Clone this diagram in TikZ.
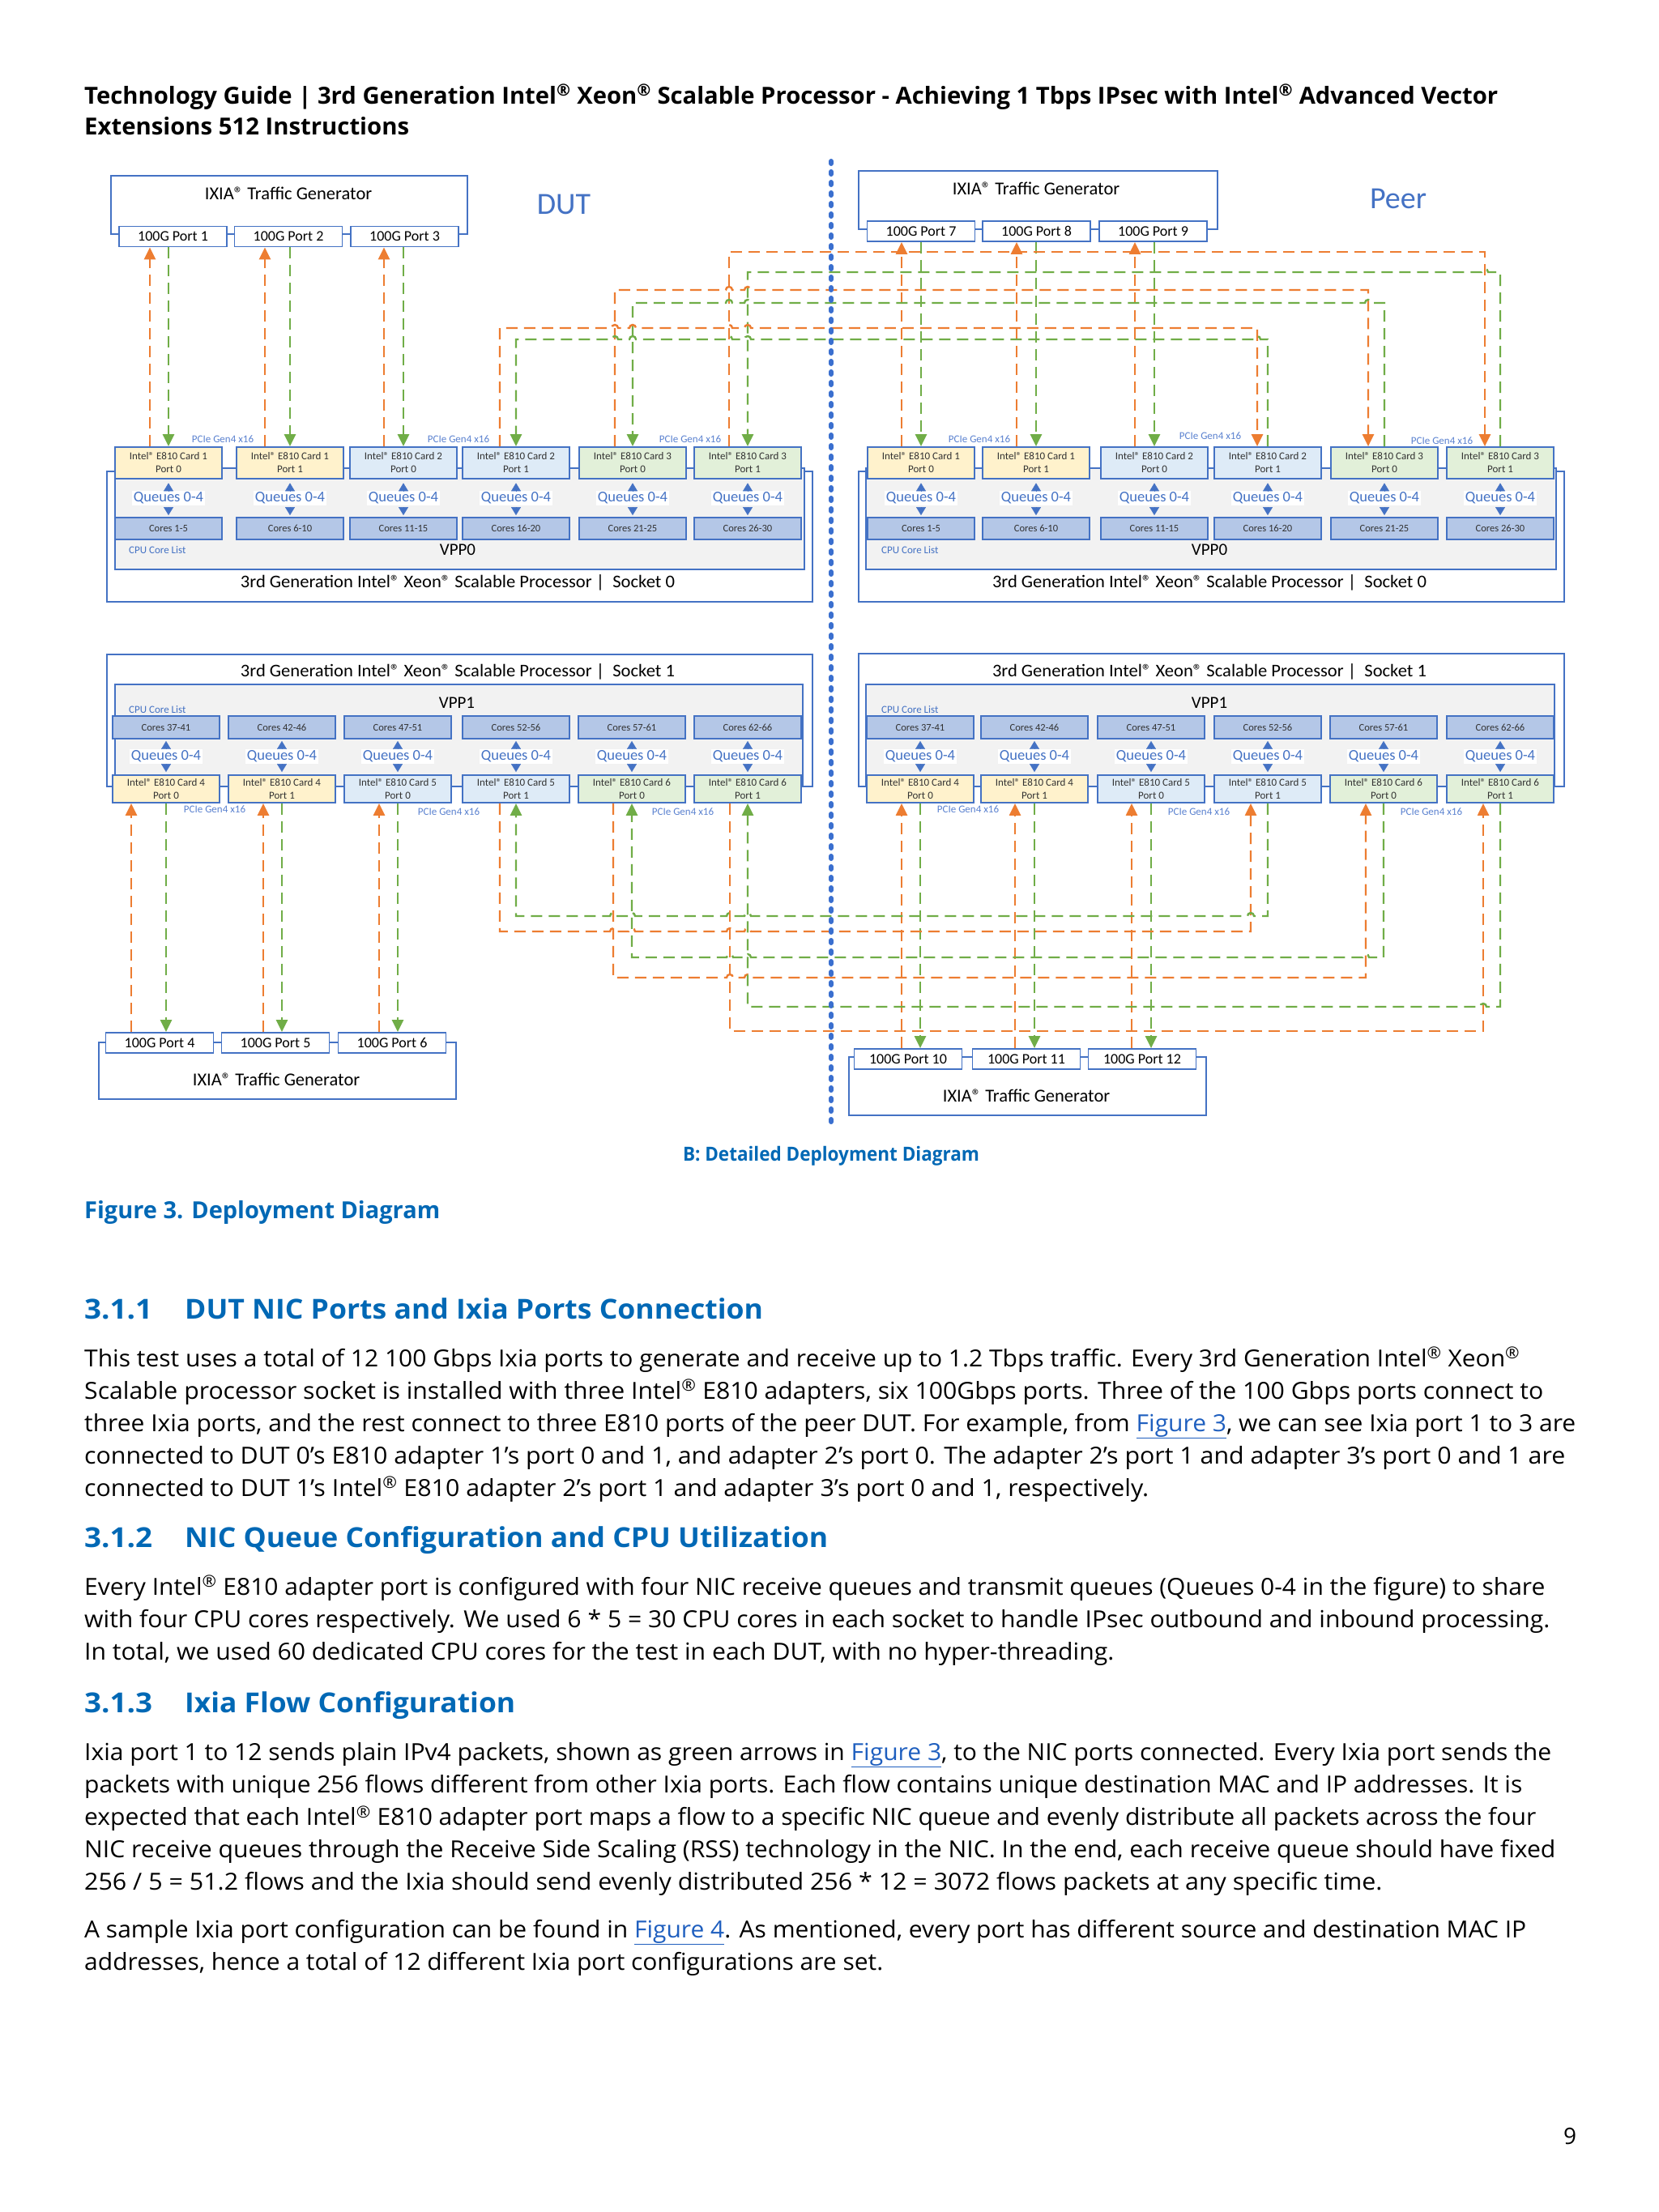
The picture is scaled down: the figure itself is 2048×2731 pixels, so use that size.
\documentclass[tikz,border=0pt]{standalone}
\usepackage{fontspec}
\setmainfont{Open Sans}
\newfontfamily\dfont{Carlito}
\usepackage{graphicx}
\usetikzlibrary{arrows.meta}
\definecolor{bblue}{HTML}{4472C4}
\definecolor{lblue}{HTML}{5B82D0}
\definecolor{sepblue}{HTML}{3A6FCF}
\definecolor{oran}{HTML}{ED7D31}
\definecolor{grn}{HTML}{70AD47}
\definecolor{yelf}{HTML}{FFF2CC}
\definecolor{bluf}{HTML}{DEEBF7}
\definecolor{grnf}{HTML}{E2F0D9}
\definecolor{coref}{HTML}{B4C7E7}
\definecolor{vppf}{HTML}{F2F2F2}
\definecolor{intel}{HTML}{0068B5}
\definecolor{linkc}{HTML}{1F5FBF}
\definecolor{dtext}{HTML}{333333}
\newcommand{\regm}{\textsuperscript{®}}
\newcommand{\fitw}[2]{\resizebox{#1pt}{\height}{#2}}
\newcommand{\lnk}[1]{{\color{linkc}\underline{#1}}}
\tikzset{
  box/.style={draw=bblue, line width=1.8pt},
  card/.style={box, minimum width=132pt, inner sep=0pt, align=center, text=dtext,
    font=\dfont\fontsize{13}{16}\selectfont},
  cores/.style={box, fill=coref, minimum width=132pt, inner sep=0pt, text=dtext,
    font=\dfont\fontsize{12.5}{14}\selectfont},
  port/.style={box, fill=white, minimum width=133pt, minimum height=25pt, inner sep=0pt,
    font=\dfont\fontsize{18}{20}\selectfont},
  queue/.style={fill=white, inner xsep=2pt, inner ysep=0pt, minimum height=18pt, text=bblue,
    font=\dfont\fontsize{18.5}{20}\selectfont},
  pcie/.style={inner sep=0pt, text=lblue, font=\dfont\fontsize{13}{14}\selectfont},
  ixl/.style={inner sep=0pt, text=black, font=\dfont\fontsize{22.5}{24}\selectfont},
  sockl/.style={inner sep=0pt, text=black, font=\dfont\fontsize{22}{24}\selectfont},
  vppl/.style={inner sep=0pt, text=black, font=\dfont\fontsize{21}{24}\selectfont},
  cpul/.style={inner sep=0pt, anchor=west, text=bblue, font=\dfont\fontsize{13}{14}\selectfont},
  bigl/.style={inner sep=0pt, text=bblue, font=\dfont\fontsize{38}{40}\selectfont},
  oline/.style={draw=oran, line width=2.4pt, dash pattern=on 14pt off 8pt},
  gline/.style={draw=grn, line width=2.4pt, dash pattern=on 14pt off 8pt},
  arrtip/.style={-{Triangle[width=14pt,length=15pt]}},
  qtri/.style={draw=bblue, line width=0.4pt, -{Triangle[width=12pt,length=10pt]}},
  sepline/.style={draw=sepblue, line width=6pt, dash pattern=on 3pt off 10pt, line cap=round},
  body/.style={anchor=base west, inner sep=0pt, text=black, font=\fontsize{29}{36}\selectfont},
  head/.style={anchor=base west, inner sep=0pt, text=intel, font=\bfseries\fontsize{34}{40}\selectfont},
}
\begin{document}
\begin{tikzpicture}[x=1pt,y=-1pt]
\fill[white] (0,0) rectangle (2048,2731);
\useasboundingbox (0,0) rectangle (2048,2731);

% ---------- header ----------
\node[anchor=base west, inner sep=0pt, font=\bfseries\fontsize{29}{34}\selectfont] (hd1) at (104,128)
  {\fitw{1745}{Technology Guide | 3rd Generation Intel\regm{} Xeon\regm{} Scalable Processor - Achieving 1 Tbps IPsec with Intel\regm{} Advanced Vector}};
\node[anchor=base west, inner sep=0pt, font=\bfseries\fontsize{29}{34}\selectfont] (hd2) at (104,166)
  {\fitw{401}{Extensions 512 Instructions}};

% ---------- Ixia boxes ----------
\node[box, fill=white, anchor=north west, minimum width=440pt, minimum height=72pt, inner sep=0pt] (dIxT) at (136,216) {};
\node[ixl] (dIxTl) at (356,239) {IXIA® Traffic Generator};
\node[port] (dP1) at (213.5,292) {100G Port 1};
\node[port] (dP2) at (356,292) {100G Port 2};
\node[port] (dP3) at (499.5,292) {100G Port 3};

\node[box, fill=white, anchor=north west, minimum width=443pt, minimum height=72pt, inner sep=0pt] (pIxT) at (1059,210) {};
\node[ixl] (pIxTl) at (1279,233) {IXIA® Traffic Generator};
\node[port] (pP7) at (1137,285.5) {100G Port 7};
\node[port] (pP8) at (1279.5,285.5) {100G Port 8};
\node[port] (pP9) at (1423.5,285.5) {100G Port 9};

\node[box, fill=white, anchor=north west, minimum width=441pt, minimum height=70pt, inner sep=0pt] (dIxB) at (121,1286) {};
\node[ixl] (dIxBl) at (341,1333) {IXIA® Traffic Generator};
\node[port] (dP4) at (197,1287.5) {100G Port 4};
\node[port] (dP5) at (340,1287.5) {100G Port 5};
\node[port] (dP6) at (484,1287.5) {100G Port 6};

\node[box, fill=white, anchor=north west, minimum width=441pt, minimum height=72pt, inner sep=0pt] (pIxB) at (1047,1304) {};
\node[ixl] (pIxBl) at (1267,1353) {IXIA® Traffic Generator};
\node[port] (pP10) at (1121,1307.5) {100G Port 10};
\node[port] (pP11) at (1267,1307.5) {100G Port 11};
\node[port] (pP12) at (1410,1307.5) {100G Port 12};

\node[bigl] (dutl) at (696,252) {DUT};
\node[bigl] (peerl) at (1726,245) {Peer};

% ---------- sockets ----------
\node[box, fill=white, anchor=north west, minimum width=871pt, minimum height=161pt, inner sep=0pt] (dS0) at (131,581) {};
\node[box, fill=vppf, anchor=north west, minimum width=851pt, minimum height=125pt, inner sep=0pt] (dV0) at (141,577) {};
\node[box, fill=white, anchor=north west, minimum width=871pt, minimum height=161pt, inner sep=0pt] (pS0) at (1059,581) {};
\node[box, fill=vppf, anchor=north west, minimum width=852pt, minimum height=125pt, inner sep=0pt] (pV0) at (1068,577) {};
\node[box, fill=white, anchor=north west, minimum width=871pt, minimum height=163pt, inner sep=0pt] (dS1) at (131,807) {};
\node[box, fill=vppf, anchor=north west, minimum width=849pt, minimum height=126pt, inner sep=0pt] (dV1) at (141,844) {};
\node[box, fill=white, anchor=north west, minimum width=871pt, minimum height=164pt, inner sep=0pt] (pS1) at (1059,806) {};
\node[box, fill=vppf, anchor=north west, minimum width=850pt, minimum height=126pt, inner sep=0pt] (pV1) at (1068,844) {};

\node[sockl] (dS0l) at (565,719) {\fitw{536}{3rd Generation Intel® Xeon® Scalable Processor |\ \ Socket 0}};
\node[sockl] (pS0l) at (1493,719) {\fitw{536}{3rd Generation Intel® Xeon® Scalable Processor |\ \ Socket 0}};
\node[sockl] (dS1l) at (565,829) {\fitw{536}{3rd Generation Intel® Xeon® Scalable Processor |\ \ Socket 1}};
\node[sockl] (pS1l) at (1493,829) {\fitw{536}{3rd Generation Intel® Xeon® Scalable Processor |\ \ Socket 1}};
\node[vppl] (dV0l) at (565,679) {VPP0};
\node[vppl] (pV0l) at (1493,679) {VPP0};
\node[vppl] (dV1l) at (564,868) {VPP1};
\node[vppl] (pV1l) at (1493,868) {VPP1};
\node[cpul] (dC0l) at (159,679) {CPU Core List};
\node[cpul] (pC0l) at (1088,679) {CPU Core List};
\node[cpul] (dC1l) at (159,876) {CPU Core List};
\node[cpul] (pC1l) at (1088,876) {CPU Core List};

% ---------- cards / cores / queues : socket 0 ----------
\foreach \i/\cx/\fc/\cn/\pn/\corl in {1/208/yelf/1/0/1-5, 2/358/yelf/1/1/6-10, 3/498/bluf/2/0/11-15, 4/637/bluf/2/1/16-20, 5/781/grnf/3/0/21-25, 6/923/grnf/3/1/26-30}{
  \node[card, fill=\fc, minimum height=39pt] (dT\i) at (\cx,571.5) {Intel® E810 Card \cn\\Port \pn};
  \node[cores, minimum height=27pt] (dTc\i) at (\cx,652.5) {Cores \corl};
  \node[queue] (dTq\i) at (\cx,615) {Queues 0-4};
  \draw[qtri, shorten >=4.5pt] (dTq\i.north) -- (dT\i.south);
  \draw[qtri, shorten <=3pt, shorten >=2pt] (dTq\i.south) -- (dTc\i.north);
}
\foreach \i/\cx/\fc/\cn/\pn/\corl in {1/1137/yelf/1/0/1-5, 2/1279/yelf/1/1/6-10, 3/1425/bluf/2/0/11-15, 4/1565/bluf/2/1/16-20, 5/1709/grnf/3/0/21-25, 6/1852/grnf/3/1/26-30}{
  \node[card, fill=\fc, minimum height=39pt] (pT\i) at (\cx,571.5) {Intel® E810 Card \cn\\Port \pn};
  \node[cores, minimum height=27pt] (pTc\i) at (\cx,652.5) {Cores \corl};
  \node[queue] (pTq\i) at (\cx,615) {Queues 0-4};
  \draw[qtri, shorten >=4.5pt] (pTq\i.north) -- (pT\i.south);
  \draw[qtri, shorten <=3pt, shorten >=2pt] (pTq\i.south) -- (pTc\i.north);
}
% ---------- socket 1 ----------
\foreach \i/\cx/\fc/\cn/\pn/\corl in {1/205/yelf/4/0/37-41, 2/348/yelf/4/1/42-46, 3/491/bluf/5/0/47-51, 4/637/bluf/5/1/52-56, 5/780/grnf/6/0/57-61, 6/923/grnf/6/1/62-66}{
  \node[card, fill=\fc, minimum height=34pt] (dB\i) at (\cx,974) {Intel® E810 Card \cn\\Port \pn};
  \node[cores, minimum height=28pt] (dBc\i) at (\cx,898) {Cores \corl};
  \node[queue] (dBq\i) at (\cx,934) {Queues 0-4};
  \draw[qtri, shorten <=1pt, shorten >=2pt] (dBq\i.north) -- (dBc\i.south);
  \draw[qtri, shorten <=1pt, shorten >=3pt] (dBq\i.south) -- (dB\i.north);
}
\foreach \i/\cx/\fc/\cn/\pn/\corl in {1/1136/yelf/4/0/37-41, 2/1277/yelf/4/1/42-46, 3/1421/bluf/5/0/47-51, 4/1565/bluf/5/1/52-56, 5/1708/grnf/6/0/57-61, 6/1852/grnf/6/1/62-66}{
  \node[card, fill=\fc, minimum height=34pt] (pB\i) at (\cx,974) {Intel® E810 Card \cn\\Port \pn};
  \node[cores, minimum height=28pt] (pBc\i) at (\cx,898) {Cores \corl};
  \node[queue] (pBq\i) at (\cx,934) {Queues 0-4};
  \draw[qtri, shorten <=1pt, shorten >=2pt] (pBq\i.north) -- (pBc\i.south);
  \draw[qtri, shorten <=1pt, shorten >=3pt] (pBq\i.south) -- (pB\i.north);
}

% ---------- PCIe labels ----------
\node[pcie] (dTpc1) at (275,542) {PCIe Gen4 x16};
\node[pcie] (dTpc2) at (566,542) {PCIe Gen4 x16};
\node[pcie] (dTpc3) at (852,542) {PCIe Gen4 x16};
\node[pcie] (pTpc1) at (1209,542) {PCIe Gen4 x16};
\node[pcie] (pTpc2) at (1494,538) {PCIe Gen4 x16};
\node[pcie] (pTpc3) at (1780,544) {PCIe Gen4 x16};
\node[pcie] (dBpc1) at (265,999) {PCIe Gen4 x16};
\node[pcie] (dBpc2) at (554,1002) {PCIe Gen4 x16};
\node[pcie] (dBpc3) at (843,1002) {PCIe Gen4 x16};
\node[pcie] (pBpc1) at (1195,999) {PCIe Gen4 x16};
\node[pcie] (pBpc2) at (1480,1002) {PCIe Gen4 x16};
\node[pcie] (pBpc3) at (1767,1002) {PCIe Gen4 x16};

% ---------- Ixia <-> card connectors ----------
\draw[oline,arrtip] ([xshift=-23pt]dT1.north) -- ([xshift=-23pt]dT1.north |- dP1.south);
\draw[gline,arrtip] (dT1.north |- dP1.south) -- (dT1.north);
\draw[oline,arrtip] ([xshift=-31pt]dT2.north) -- ([xshift=-31pt]dT2.north |- dP2.south);
\draw[gline,arrtip] (dT2.north |- dP2.south) -- (dT2.north);
\draw[oline,arrtip] ([xshift=-24pt]dT3.north) -- ([xshift=-24pt]dT3.north |- dP3.south);
\draw[gline,arrtip] (dT3.north |- dP3.south) -- (dT3.north);

\draw[oline,arrtip] ([xshift=-24pt]pT1.north) -- ([xshift=-24pt]pT1.north |- pP7.south);
\draw[gline,arrtip] (pT1.north |- pP7.south) -- (pT1.north);
\draw[oline,arrtip] ([xshift=-24pt]pT2.north) -- ([xshift=-24pt]pT2.north |- pP8.south);
\draw[gline,arrtip] (pT2.north |- pP8.south) -- (pT2.north);
\draw[oline,arrtip] ([xshift=-24pt]pT3.north) -- ([xshift=-24pt]pT3.north |- pP9.south);
\draw[gline,arrtip] (pT3.north |- pP9.south) -- (pT3.north);

\draw[oline,arrtip] ([xshift=-43pt]dB1.south |- dP4.north) -- ([xshift=-43pt]dB1.south);
\draw[gline,arrtip] (dB1.south) -- (dB1.south |- dP4.north);
\draw[oline,arrtip] ([xshift=-23pt]dB2.south |- dP5.north) -- ([xshift=-23pt]dB2.south);
\draw[gline,arrtip] (dB2.south) -- (dB2.south |- dP5.north);
\draw[oline,arrtip] ([xshift=-23pt]dB3.south |- dP6.north) -- ([xshift=-23pt]dB3.south);
\draw[gline,arrtip] (dB3.south) -- (dB3.south |- dP6.north);

\draw[oline,arrtip] ([xshift=-23pt]pB1.south |- pP10.north) -- ([xshift=-23pt]pB1.south);
\draw[gline,arrtip] (pB1.south) -- (pB1.south |- pP10.north);
\draw[oline,arrtip] ([xshift=-24pt]pB2.south |- pP11.north) -- ([xshift=-24pt]pB2.south);
\draw[gline,arrtip] (pB2.south) -- (pB2.south |- pP11.north);
\draw[oline,arrtip] ([xshift=-24pt]pB3.south |- pP12.north) -- ([xshift=-24pt]pB3.south);
\draw[gline,arrtip] (pB3.south) -- (pB3.south |- pP12.north);

% ---------- DUT <-> Peer connectors (socket 0) ----------
\draw[oline,arrtip] ([xshift=-23pt]dT6.north) -- (900,311) -- (1833,311) -- ([xshift=-19pt]pT6.north);
\draw[gline,arrtip] (pT6.north) -- (1852,336) -- (1837,336) arc(0:-180:4) -- (923,336) -- (dT6.north);
\draw[oline,arrtip] ([xshift=-22pt]dT5.north) -- (759,358) -- (896,358) arc(180:360:4) -- (919,358) arc(180:360:4) -- (1689,358) -- ([xshift=-20pt]pT5.north);
\draw[gline,arrtip] (pT5.north) -- (1709,374) -- (1693,374) arc(0:-180:4) -- (927,374) arc(0:-180:4) -- (904,374) arc(0:-180:4) -- (781,374) -- (dT5.north);
\draw[oline,arrtip] ([xshift=-20pt]dT4.north) -- (617,405) -- (755,405) arc(180:360:4) -- (777,405) arc(180:360:4) -- (896,405) arc(180:360:4) -- (919,405) arc(180:360:4) -- (1552,405) -- ([xshift=-13pt]pT4.north);
\draw[gline,arrtip] (pT4.north) -- (1565,419) -- (1556,419) arc(0:-180:4) -- (927,419) arc(0:-180:4) -- (904,419) arc(0:-180:4) -- (785,419) arc(0:-180:4) -- (763,419) arc(0:-180:4) -- (637,419) -- (dT4.north);

% ---------- DUT <-> Peer connectors (socket 1) ----------
\draw[oline,arrtip] ([xshift=-20pt]dB4.south) -- (617,1150) -- (753,1150) arc(180:360:4) -- (776,1150) arc(180:360:4) -- (897,1150) arc(180:360:4) -- (919,1150) arc(180:360:4) -- (1544,1150) -- ([xshift=-21pt]pB4.south);
\draw[gline,arrtip] (pB4.south) -- (1565,1131) -- (1548,1131) arc(0:-180:4) -- (927,1131) arc(0:-180:4) -- (905,1131) arc(0:-180:4) -- (784,1131) arc(0:-180:4) -- (761,1131) arc(0:-180:4) -- (637,1131) -- (dB4.south);
\draw[oline,arrtip] ([xshift=-23pt]dB5.south) -- (757,1207) -- (897,1207) arc(180:360:4) -- (919,1207) arc(180:360:4) -- (1686,1207) -- ([xshift=-22pt]pB5.south);
\draw[gline,arrtip] (pB5.south) -- (1708,1182) -- (1690,1182) arc(0:-180:4) -- (927,1182) arc(0:-180:4) -- (905,1182) arc(0:-180:4) -- (780,1182) -- (dB5.south);
\draw[oline,arrtip] ([xshift=-22pt]dB6.south) -- (901,1273) -- (1831,1273) -- ([xshift=-21pt]pB6.south);
\draw[gline,arrtip] (pB6.south) -- (1852,1243) -- (1835,1243) arc(0:-180:4) -- (923,1243) -- (dB6.south);

% ---------- separator ----------
\coordinate (sepT) at (1026,199);
\coordinate (sepB) at (1026,1386);
\draw[sepline] (sepT) -- (sepB);

% ---------- captions ----------
\node[anchor=base, inner sep=0pt, text=intel, font=\bfseries\fontsize{24}{28}\selectfont] (capB) at (1026,1433) {\fitw{366}{B: Detailed Deployment Diagram}};
\node[anchor=base west, inner sep=0pt, text=intel, font=\bfseries\fontsize{29}{34}\selectfont] (capF) at (104,1504) {\fitw{439}{Figure 3. Deployment Diagram}};

% ---------- section 3.1.1 ----------
\node[head] (h1n) at (104,1628) {\fitw{84}{3.1.1}};
\node[head] (h1t) at (228,1628) {\fitw{714}{DUT NIC Ports and Ixia Ports Connection}};
\node[body] (a1) at (104,1687) {\fitw{1772}{This test uses a total of 12 100 Gbps Ixia ports to generate and receive up to 1.2 Tbps traffic. Every 3rd Generation Intel\regm{} Xeon\regm{}}};
\node[body] (a2) at (104,1727) {\fitw{1801}{Scalable processor socket is installed with three Intel\regm{} E810 adapters, six 100Gbps ports. Three of the 100 Gbps ports connect to}};
\node[body] (a3) at (104,1767) {\fitw{1841}{three Ixia ports, and the rest connect to three E810 ports of the peer DUT. For example, from \lnk{Figure 3}, we can see Ixia port 1 to 3 are}};
\node[body] (a4) at (104,1807) {\fitw{1828}{connected to DUT 0's E810 adapter 1's port 0 and 1, and adapter 2's port 0. The adapter 2's port 1 and adapter 3's port 0 and 1 are}};
\node[body] (a5) at (104,1847) {\fitw{1314}{connected to DUT 1's Intel\regm{} E810 adapter 2's port 1 and adapter 3's port 0 and 1, respectively.}};

% ---------- section 3.1.2 ----------
\node[head] (h2n) at (104,1910) {\fitw{84}{3.1.2}};
\node[head] (h2t) at (228,1910) {\fitw{794}{NIC Queue Configuration and CPU Utilization}};
\node[body] (b1) at (104,1969) {\fitw{1803}{Every Intel\regm{} E810 adapter port is configured with four NIC receive queues and transmit queues (Queues 0-4 in the figure) to share}};
\node[body] (b2) at (104,2009) {\fitw{1809}{with four CPU cores respectively. We used 6 * 5 = 30 CPU cores in each socket to handle IPsec outbound and inbound processing.}};
\node[body] (b3) at (104,2049) {\fitw{1271}{In total, we used 60 dedicated CPU cores for the test in each DUT, with no hyper-threading.}};

% ---------- section 3.1.3 ----------
\node[head] (h3n) at (104,2114) {\fitw{84}{3.1.3}};
\node[head] (h3t) at (228,2114) {\fitw{408}{Ixia Flow Configuration}};
\node[body] (c1) at (104,2173) {\fitw{1811}{Ixia port 1 to 12 sends plain IPv4 packets, shown as green arrows in \lnk{Figure 3}, to the NIC ports connected. Every Ixia port sends the}};
\node[body] (c2) at (104,2213) {\fitw{1775}{packets with unique 256 flows different from other Ixia ports. Each flow contains unique destination MAC and IP addresses. It is}};
\node[body] (c3) at (104,2253) {\fitw{1792}{expected that each Intel\regm{} E810 adapter port maps a flow to a specific NIC queue and evenly distribute all packets across the four}};
\node[body] (c4) at (104,2293) {\fitw{1816}{NIC receive queues through the Receive Side Scaling (RSS) technology in the NIC. In the end, each receive queue should have fixed}};
\node[body] (c5) at (104,2333) {\fitw{1602}{256 / 5 = 51.2 flows and the Ixia should send evenly distributed 256 * 12 = 3072 flows packets at any specific time.}};
\node[body] (d1) at (104,2392) {\fitw{1780}{A sample Ixia port configuration can be found in \lnk{Figure 4}. As mentioned, every port has different source and destination MAC IP}};
\node[body] (d2) at (104,2432) {\fitw{986}{addresses, hence a total of 12 different Ixia port configurations are set.}};

\node[anchor=base, inner sep=0pt, font=\fontsize{28}{30}\selectfont] (pg) at (1938,2647) {9};
\end{tikzpicture}
\end{document}
